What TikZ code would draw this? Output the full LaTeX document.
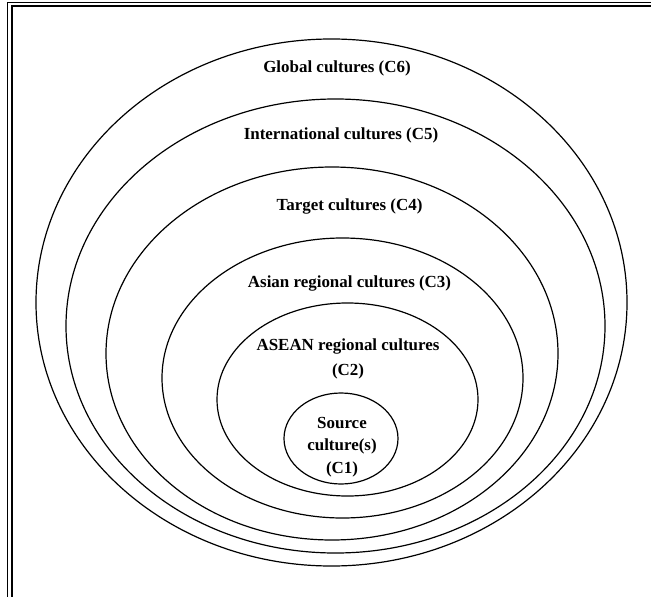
\documentclass[tikz,border=0pt]{standalone}
\usepackage{fontspec}
\setmainfont{Liberation Serif}
\usetikzlibrary{shapes.geometric}

\begin{document}
\begin{tikzpicture}[
    x=1bp, y=-1bp,
    ring/.style={ellipse, draw, line width=1.2bp, inner sep=0pt},
    tag/.style={font=\bfseries\fontsize{17}{23}\selectfont, align=center, inner sep=0pt}
]
    \useasboundingbox (0,0) rectangle (651,597);

    % Frame
    \draw[line width=1bp] (7.5,597) -- (7.5,2.5) -- (651,2.5);
    \draw[line width=2bp] (11.5,597) -- (11.5,6.5) -- (651,6.5);

    % Rings
    \node[ring, minimum width=591bp, minimum height=527bp] (c6) at (331.5,302.5) {};
    \node[ring, minimum width=539bp, minimum height=454bp] (c5) at (335.5,326) {};
    \node[ring, minimum width=452bp, minimum height=373bp] (c4) at (332,353.5) {};
    \node[ring, minimum width=361bp, minimum height=280bp] (c3) at (342.5,378) {};
    \node[ring, minimum width=261bp, minimum height=193bp] (c2) at (347.5,399.5) {};
    \node[ring, minimum width=114bp, minimum height=91bp] (c1) at (341,438.5) {};

    % Labels
    \node[tag, anchor=base] (global) at (337,73) {Global cultures (C6)};
    \node[tag, anchor=base] (intl) at (341,140) {International cultures (C5)};
    \node[tag, anchor=base] (target) at (349.5,210) {Target cultures (C4)};
    \node[tag, anchor=base] (asian) at (349.5,287) {Asian regional cultures (C3)};
    \node[tag] (asean) at (348,359) {ASEAN regional cultures\\[2bp](C2)};
    \node[tag, font=\bfseries\fontsize{17}{22.5}\selectfont] (source) at (342,447) {Source\\culture(s)\\(C1)};
\end{tikzpicture}
\end{document}
